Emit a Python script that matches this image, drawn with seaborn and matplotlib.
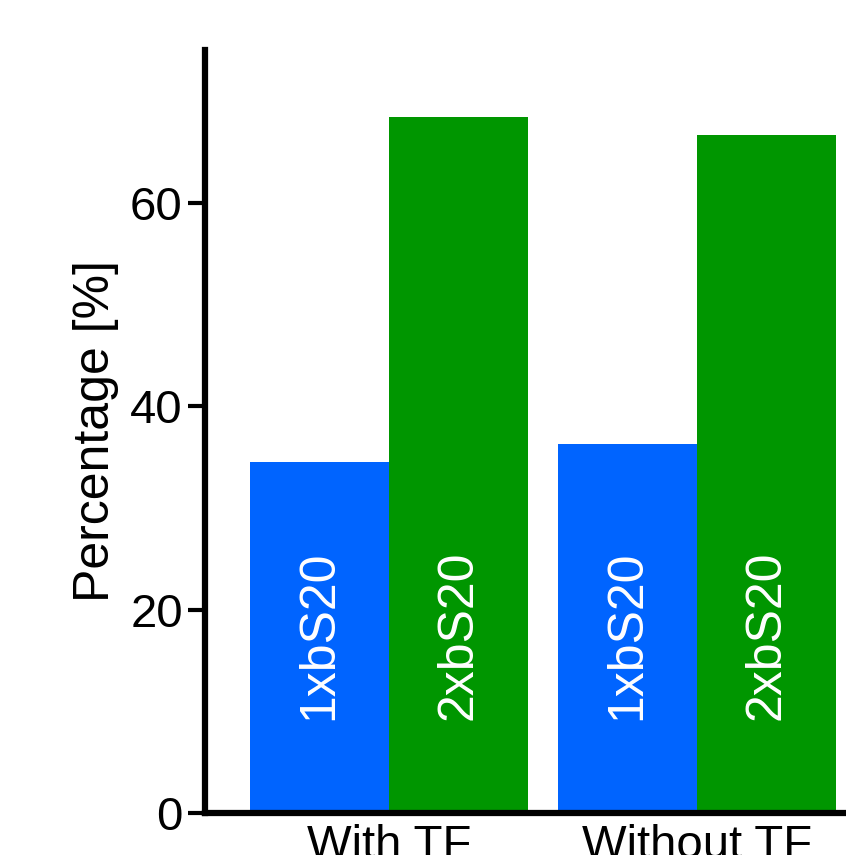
import matplotlib
matplotlib.use("Agg")
import matplotlib.pyplot as plt
import seaborn as sns
import pandas as pd

groups = ["With TF", "With TF", "Without TF", "Without TF"]
series = ["1xbS20", "2xbS20", "1xbS20", "2xbS20"]
values = [34.5, 68.4, 36.3, 66.6]
colors = {"1xbS20": "#0064ff", "2xbS20": "#009600"}
yticks = [0, 20, 40, 60]

sns.set_theme(style="white")
plt.rcParams['font.family'] = ['Liberation Sans', 'DejaVu Sans']
plt.rcParams['text.color'] = 'black'
plt.rcParams['axes.labelcolor'] = 'black'
plt.rcParams['xtick.color'] = 'black'
plt.rcParams['ytick.color'] = 'black'

df = pd.DataFrame({"group": groups, "series": series, "value": values})

fig = plt.figure(figsize=(8.46, 8.55), dpi=100)
ax = fig.add_axes([205 / 846, 42 / 855, 1 - 205 / 846, 763 / 855])

sns.barplot(data=df, x="group", y="value", hue="series", palette=colors,
            width=0.9, dodge=True, saturation=1, legend=False, ax=ax,
            linewidth=0, errorbar=None)

# labels inside bars
for cont, name in zip(ax.containers, ["1xbS20", "2xbS20"]):
    for bar in cont:
        cx = bar.get_x() + bar.get_width() / 2
        ax.text(cx, 17.5, name, rotation=90, ha="center", va="center",
                color="white", fontsize=36)

ax.set_xlim(-0.597, 1.484)
ax.set_ylim(0, 75.0)
ax.set_yticks(yticks)
ax.set_yticklabels([str(t) for t in yticks], fontsize=34)
ax.set_ylabel("Percentage [%]", fontsize=36, labelpad=8)
ax.set_xlabel("")
ax.tick_params(axis="x", labelsize=34, length=0, pad=8)
ax.tick_params(axis="y", length=12, width=3, pad=4, left=True)
for side in ["top", "right"]:
    ax.spines[side].set_visible(False)
for side in ["left", "bottom"]:
    ax.spines[side].set_linewidth(4.5)
    ax.spines[side].set_color("black")

fig.savefig("out.png", dpi=100)
